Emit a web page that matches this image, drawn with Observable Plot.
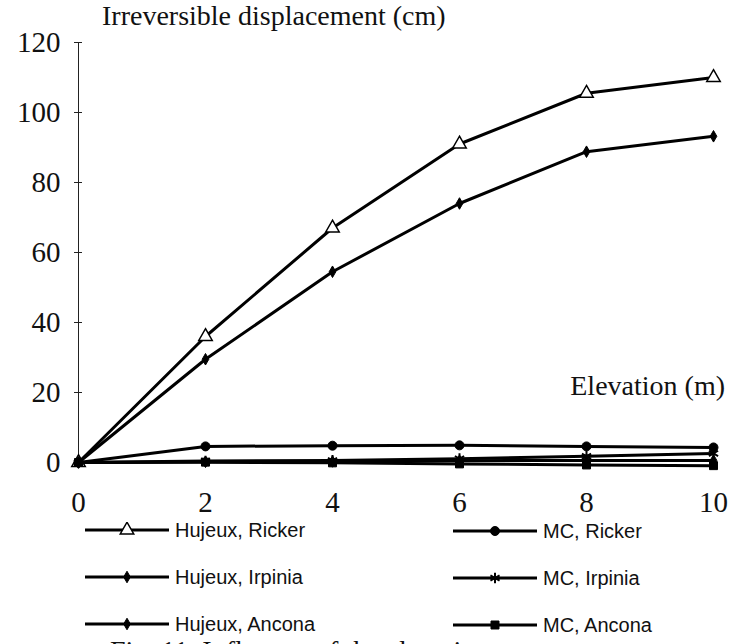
<!DOCTYPE html>
<html>
<head>
<meta charset="utf-8">
<script src="https://cdn.jsdelivr.net/npm/d3@7"></script>
<script src="https://cdn.jsdelivr.net/npm/@observablehq/plot@0.6"></script>
<style>
  html, body { margin: 0; padding: 0; background: white; }
  #wrap { position: relative; width: 742px; height: 644px; overflow: hidden; background: white; }
  .lbl { position: absolute; font-family: "Liberation Serif", serif; font-size: 28px; line-height: 28px; color: #111; white-space: nowrap; }
  .leg { position: absolute; font-family: "Liberation Sans", Arial, sans-serif; font-size: 20px; line-height: 20px; color: #111; white-space: nowrap; }
  .sw { position: absolute; }
</style>
</head>
<body>
<div id="wrap"></div>
<script>
// ---- data ----
const elevation = [0, 2, 4, 6, 8, 10];
const seriesNames = ["Hujeux, Ricker", "Hujeux, Irpinia", "Hujeux, Ancona", "MC, Ricker", "MC, Irpinia", "MC, Ancona"];
const hujeuxRicker  = [0, 36, 67, 91, 105.5, 110];
const hujeuxIrpinia = [0, 29.5, 54.5, 74, 88.8, 93.2];
const hujeuxAncona  = [0, 0.2, 0.3, 0.5, 0.6, 0.6];
const mcRicker      = [0, 4.6, 4.8, 4.9, 4.6, 4.3];
const mcIrpinia     = [0, 0.4, 0.6, 1.1, 1.8, 2.6];
const mcAncona      = [0, 0.1, -0.1, -0.4, -0.7, -0.9];
const xTicks = [0, 2, 4, 6, 8, 10];
const yTicks = [0, 20, 40, 60, 80, 100, 120];
const yLabel = "Irreversible displacement (cm)";
const xLabel = "Elevation (m)";
const caption = "Fig. 11.  Influence of the elevation";

const seriesValues = [hujeuxRicker, hujeuxIrpinia, hujeuxAncona, mcRicker, mcIrpinia, mcAncona];
const rows = [];
seriesNames.forEach((s, i) => elevation.forEach((e, j) => rows.push({series: s, elevation: e, value: seriesValues[i][j]})));

const markerStyle = {
  "Hujeux, Ricker":  {symbol: "triangle", r: 5, fill: "white", stroke: "black", strokeWidth: 1.5},
  "Hujeux, Irpinia": {symbol: "diamond", r: 3.5, fill: "black", stroke: "black", strokeWidth: 1},
  "Hujeux, Ancona":  {symbol: "diamond", r: 3.5, fill: "black", stroke: "black", strokeWidth: 1},
  "MC, Ricker":      {symbol: "circle", r: 4.5, fill: "black", stroke: "black", strokeWidth: 1},
  "MC, Irpinia":     {symbol: "asterisk", r: 5, fill: "none", stroke: "black", strokeWidth: 2},
  "MC, Ancona":      {symbol: "square", r: 4.5, fill: "black", stroke: "black", strokeWidth: 1}
};

const chart = Plot.plot({
  width: 742,
  height: 520,
  marginTop: 42,
  marginBottom: 58,
  marginLeft: 78,
  marginRight: 29,
  x: {domain: [0, 10]},
  y: {domain: [0, 120]},
  style: {fontFamily: "Liberation Serif, serif", fontSize: "29px", color: "#111", background: "transparent", overflow: "visible"},
  marks: [
    Plot.ruleX([0], {stroke: "#222", strokeWidth: 1}),
    Plot.axisY({ticks: yTicks, tickSize: 8, dx: 4, tickPadding: 14, label: null, stroke: "#222"}),
    Plot.axisX({ticks: xTicks, tickSize: 9, dy: -4, tickPadding: 24, label: null, stroke: "#222"}),
    Plot.line(rows, {x: "elevation", y: "value", z: "series", stroke: "black", strokeWidth: 3, strokeLinejoin: "round"}),
    ...seriesNames.map(s => Plot.dot(rows, {filter: d => d.series === s, x: "elevation", y: "value", ...markerStyle[s]}))
  ]
});

const wrap = document.getElementById("wrap");
chart.style.position = "absolute";
chart.style.left = "0px";
chart.style.top = "0px";
wrap.appendChild(chart);

function addLabel(text, cls, css) {
  const d = document.createElement("div");
  d.className = cls;
  d.textContent = text;
  Object.assign(d.style, css);
  wrap.appendChild(d);
  return d;
}
addLabel(yLabel, "lbl", {left: "102px", top: "2px"});
addLabel(xLabel, "lbl", {right: "17px", top: "372px"});
addLabel(caption, "lbl", {left: "110px", top: "637px"});

// ---- legend ----
const legendPos = [
  {x: 85, y: 530}, {x: 85, y: 577}, {x: 85, y: 624},
  {x: 453, y: 531}, {x: 453, y: 578}, {x: 453, y: 625}
];
const symMap = {triangle: d3.symbolTriangle, diamond: d3.symbolDiamond, circle: d3.symbolCircle, asterisk: d3.symbolAsterisk, square: d3.symbolSquare};
seriesNames.forEach((s, i) => {
  const p = legendPos[i];
  const w = 84, h = 16;
  const ns = "http://www.w3.org/2000/svg";
  const svg = document.createElementNS(ns, "svg");
  svg.setAttribute("width", w);
  svg.setAttribute("height", h);
  svg.setAttribute("class", "sw");
  svg.style.left = p.x + "px";
  svg.style.top = (p.y - h / 2) + "px";
  const ln = document.createElementNS(ns, "line");
  ln.setAttribute("x1", 0); ln.setAttribute("x2", w);
  ln.setAttribute("y1", h / 2); ln.setAttribute("y2", h / 2);
  ln.setAttribute("stroke", "black"); ln.setAttribute("stroke-width", 3);
  svg.appendChild(ln);
  const m = markerStyle[s];
  const path = document.createElementNS(ns, "path");
  path.setAttribute("d", d3.symbol(symMap[m.symbol], Math.PI * m.r * m.r)());
  path.setAttribute("transform", `translate(${w / 2},${h / 2})`);
  path.setAttribute("fill", m.fill);
  path.setAttribute("stroke", m.stroke);
  path.setAttribute("stroke-width", m.strokeWidth);
  svg.appendChild(path);
  wrap.appendChild(svg);
  addLabel(s, "leg", {left: (p.x + w + 6) + "px", top: (p.y - 10) + "px"});
});
</script>
</body>
</html>
